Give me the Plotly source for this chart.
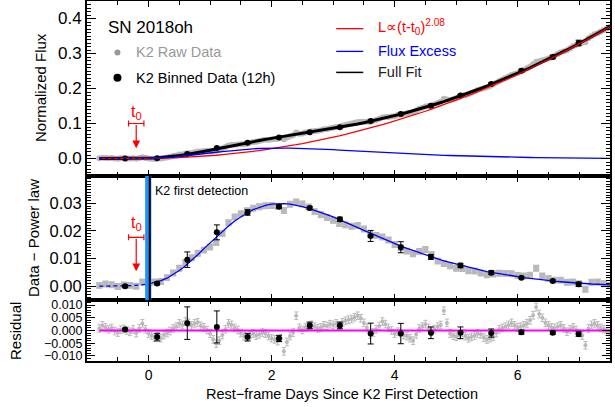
import numpy as np
import plotly.graph_objects as go

# ---------------- data ----------------
# model curves, tabulated every 0.1 day
grid_t = [-0.8, -0.7, -0.6, -0.5, -0.4, -0.3, -0.2, -0.1,
          0.0, 0.1, 0.2, 0.3, 0.4, 0.5, 0.6, 0.7, 0.8, 0.9,
          1.0, 1.1, 1.2, 1.3, 1.4, 1.5, 1.6, 1.7, 1.8, 1.9,
          2.0, 2.1, 2.2, 2.3, 2.4, 2.5, 2.6, 2.7, 2.8, 2.9,
          3.0, 3.1, 3.2, 3.3, 3.4, 3.5, 3.6, 3.7, 3.8, 3.9,
          4.0, 4.1, 4.2, 4.3, 4.4, 4.5, 4.6, 4.7, 4.8, 4.9,
          5.0, 5.1, 5.2, 5.3, 5.4, 5.5, 5.6, 5.7, 5.8, 5.9,
          6.0, 6.1, 6.2, 6.3, 6.4, 6.5, 6.6, 6.7, 6.8, 6.9,
          7.0, 7.1, 7.2, 7.3, 7.4, 7.5]

power_law = [0, 0, 0, 0, 0, 0, 0, 0.00004,
             0.0002, 0.0004, 0.0008, 0.0013, 0.0019, 0.0026, 0.0034, 0.0043, 0.0054, 0.0066,
             0.0079, 0.0093, 0.0109, 0.0125, 0.0144, 0.0163, 0.0183, 0.0205, 0.0228, 0.0253,
             0.0278, 0.0305, 0.0334, 0.0363, 0.0394, 0.0426, 0.0460, 0.0495, 0.0531, 0.0568,
             0.0607, 0.0647, 0.0688, 0.0731, 0.0775, 0.0821, 0.0868, 0.0916, 0.0965, 0.1016,
             0.1068, 0.1122, 0.1177, 0.1233, 0.1291, 0.1350, 0.1410, 0.1472, 0.1535, 0.1600,
             0.1666, 0.1733, 0.1802, 0.1871, 0.1943, 0.2016, 0.2090, 0.2165, 0.2242, 0.2320,
             0.2400, 0.2481, 0.2563, 0.2648, 0.2733, 0.2819, 0.2907, 0.2997, 0.3087, 0.3180,
             0.3273, 0.3368, 0.3464, 0.3562, 0.3661, 0.3762]

flux_excess = [0.0000, 0.0000, 0.0001, 0.0001, 0.0001, 0.0002, 0.0003, 0.0005,
               0.0008, 0.0013, 0.0020, 0.0029, 0.0042, 0.0057, 0.0074, 0.0093, 0.0114, 0.0136,
               0.0157, 0.0178, 0.0199, 0.0218, 0.0236, 0.0252, 0.0265, 0.0277, 0.0286, 0.0293,
               0.0297, 0.0299, 0.0299, 0.0297, 0.0293, 0.0288, 0.0282, 0.0275, 0.0267, 0.0259,
               0.0251, 0.0242, 0.0232, 0.0222, 0.0212, 0.0202, 0.0192, 0.0182, 0.0172, 0.0163,
               0.0154, 0.0145, 0.0137, 0.0129, 0.0121, 0.0113, 0.0106, 0.0099, 0.0092, 0.0086,
               0.0080, 0.0074, 0.0068, 0.0063, 0.0058, 0.0053, 0.0049, 0.0045, 0.0041, 0.0037,
               0.0034, 0.0031, 0.0028, 0.0025, 0.0022, 0.0020, 0.0018, 0.0016, 0.0014, 0.0012,
               0.0011, 0.0009, 0.0008, 0.0007, 0.0006, 0.0005]

# raw "data - power law" offsets from the excess curve, as seen in the middle panel (0.1-day grid)
mid_dev = [0.0003, 0.0008, 0.0004, -0.0002, 0.0003, 0.0001, -0.0003, 0.0010,
           0.0005, 0.0002, -0.0003, 0.0002, 0.0006, 0.0008, 0.0012, 0.0010, 0.0005, -0.0005,
           -0.0015, -0.0020, -0.0008, 0.0012, 0.0015, 0.0010, 0.0008, 0.0005, 0.0002, -0.0002,
           -0.0005, -0.0010, -0.0025, 0.0000, 0.0012, 0.0010, 0.0005, -0.0005, -0.0008, -0.0010,
           -0.0012, -0.0015, -0.0010, -0.0005, 0.0008, 0.0005, -0.0004, 0.0002, 0.0006, 0.0004,
           -0.0003, -0.0006, -0.0010, -0.0012, 0.0005, 0.0020, 0.0008, -0.0008, -0.0010, -0.0012,
           -0.0015, -0.0010, -0.0012, -0.0008, -0.0010, -0.0012, -0.0005, 0.0002, 0.0005, 0.0008,
           0.0005, 0.0006, 0.0012, 0.0040, 0.0015, 0.0008, 0.0004, 0.0006, 0.0000, 0.0003,
           -0.0002, -0.0020, 0.0006, 0.0008, 0.0003, -0.0002]

# raw K2 light curve times (rest-frame days) and residuals from the full fit
raw_t = [-0.80, -0.75, -0.70, -0.65, -0.60, -0.55, -0.50, -0.45, -0.40, -0.35,
         -0.30, -0.25, -0.20, -0.15, -0.10, -0.05, 0.00, 0.05, 0.10, 0.15,
         0.20, 0.25, 0.30, 0.35, 0.40, 0.45, 0.50, 0.55, 0.60, 0.65,
         0.70, 0.75, 0.80, 0.85, 0.90, 0.95, 1.00, 1.05, 1.10, 1.15,
         1.20, 1.25, 1.30, 1.35, 1.40, 1.45, 1.50, 1.55, 1.60, 1.65,
         1.70, 1.75, 1.80, 1.85, 1.90, 1.95, 2.00, 2.05, 2.10, 2.15,
         2.20, 2.25, 2.30, 2.35, 2.40, 2.45, 2.50, 2.55, 2.60, 2.65,
         2.70, 2.75, 2.80, 2.85, 2.90, 2.95, 3.00, 3.05, 3.10, 3.15,
         3.20, 3.25, 3.30, 3.35, 3.40, 3.45, 3.50, 3.55, 3.60, 3.65,
         3.70, 3.75, 3.80, 3.85, 3.90, 3.95, 4.00, 4.05, 4.10, 4.15,
         4.20, 4.25, 4.30, 4.35, 4.40, 4.45, 4.50, 4.55, 4.60, 4.65,
         4.70, 4.75, 4.80, 4.85, 4.90, 4.95, 5.00, 5.05, 5.10, 5.15,
         5.20, 5.25, 5.30, 5.35, 5.40, 5.45, 5.50, 5.55, 5.60, 5.65,
         5.70, 5.75, 5.80, 5.85, 5.90, 5.95, 6.00, 6.05, 6.10, 6.15,
         6.20, 6.25, 6.30, 6.35, 6.40, 6.45, 6.50, 6.55, 6.60, 6.65,
         6.70, 6.75, 6.80, 6.85, 6.90, 6.95, 7.00, 7.05, 7.10, 7.15,
         7.20, 7.25, 7.30, 7.35, 7.40, 7.45, 7.50]

raw_resid = [0.0008, 0.0020, 0.0012, 0.0005, 0.0010, -0.0002, -0.0008, 0.0003, 0.0006, 0.0000,
             -0.0005, 0.0004, -0.0010, 0.0008, 0.0028, 0.0005, -0.0012, -0.0020, -0.0028, -0.0022,
             -0.0030, -0.0018, -0.0010, -0.0002, 0.0008, 0.0015, 0.0028, 0.0022, 0.0035, 0.0030,
             0.0020, 0.0028, 0.0032, 0.0018, 0.0012, 0.0002, -0.0012, -0.0035, -0.0052, -0.0040,
             -0.0018, 0.0005, 0.0028, 0.0022, 0.0010, 0.0002, -0.0010, -0.0022, -0.0028, -0.0018,
             -0.0012, -0.0020, -0.0015, -0.0008, -0.0012, -0.0022, -0.0030, -0.0035, -0.0042, -0.0030,
             -0.0082, -0.0045, -0.0022, -0.0008, 0.0058, 0.0010, 0.0002, 0.0012, 0.0018, 0.0022,
             0.0015, 0.0008, 0.0012, 0.0020, 0.0018, 0.0025, 0.0022, 0.0028, 0.0020, 0.0032,
             0.0038, 0.0042, 0.0045, 0.0052, 0.0058, 0.0048, 0.0030, 0.0010, -0.0015, -0.0008,
             0.0005, 0.0018, 0.0035, 0.0025, 0.0010, 0.0000, -0.0012, -0.0005, -0.0010, -0.0018,
             -0.0022, -0.0030, -0.0040, -0.0015, 0.0008, 0.0015, 0.0025, 0.0010, -0.0005, 0.0005,
             0.0015, 0.0022, 0.0078, 0.0030, -0.0012, -0.0020, -0.0025, -0.0018, -0.0010, -0.0022,
             -0.0030, -0.0025, -0.0020, -0.0012, -0.0015, -0.0028, -0.0035, -0.0030, -0.0025, -0.0010,
             0.0005, 0.0010, 0.0015, 0.0022, 0.0030, 0.0020, 0.0012, 0.0015, 0.0020, 0.0028,
             0.0040, 0.0060, 0.0092, 0.0065, 0.0050, 0.0030, 0.0020, 0.0012, 0.0010, 0.0015,
             0.0020, 0.0008, -0.0005, 0.0005, 0.0012, 0.0002, -0.0010, -0.0020, -0.0058, 0.0008,
             0.0022, 0.0028, 0.0020, 0.0010, 0.0005, -0.0005, -0.0012]
raw_err = 0.0015
mid_err = 0.0009
assert len(raw_t) == len(raw_resid)
assert len(grid_t) == len(power_law) == len(flux_excess) == len(mid_dev)

# 12-hour binned data
bin_t = [-0.38, 0.14, 0.63, 1.11, 1.61, 2.12, 2.62, 3.11, 3.61, 4.10, 4.59, 5.07, 5.57, 6.06, 6.57, 6.99]
bin_flux = [0.000, 0.001, 0.013, 0.030, 0.045, 0.060, 0.075, 0.089, 0.107, 0.127, 0.151, 0.180,
            0.213, 0.251, 0.290, 0.330]
bin_flux_err = [0.001, 0.001, 0.002, 0.002, 0.002, 0.002, 0.002, 0.002, 0.003, 0.003, 0.003, 0.003,
                0.004, 0.004, 0.005, 0.008]
bin_excess = [0.0000, 0.0010, 0.0096, 0.0195, 0.0267, 0.0288, 0.0283, 0.0242, 0.0182, 0.0141,
              0.0106, 0.0075, 0.0049, 0.0031, 0.0019, 0.0007]
bin_excess_err = [0.0004, 0.0005, 0.0028, 0.0027, 0.0010, 0.0006, 0.0006, 0.0008, 0.0020, 0.0020,
                  0.0009, 0.0008, 0.0007, 0.0004, 0.0004, 0.0008]
bin_resid = [0.0004, -0.0026, 0.0029, 0.0014, -0.0026, -0.0031, 0.0020, 0.0020, -0.0012, -0.0012,
             -0.0009, -0.0009, -0.0010, -0.0007, -0.0009, -0.0014]
bin_resid_err = [0.0005, 0.0015, 0.0064, 0.0063, 0.0015, 0.0012, 0.0013, 0.0013, 0.0041, 0.0040,
                 0.0023, 0.0023, 0.0016, 0.0008, 0.0006, 0.0009]

t0 = -0.2
t0_err = 0.125
first_detection = 0.0

# derived: full model = power law + excess; data = model + offsets
full_fit = [p + e for p, e in zip(power_law, flux_excess)]
raw_excess = [e + d for e, d in zip(flux_excess, mid_dev)]
raw_flux = list(np.interp(raw_t, grid_t, full_fit) + np.array(raw_resid))
i0 = grid_t.index(0.0)

# ---------------- styling ----------------
FONT = "Liberation Sans, Arial, Helvetica, sans-serif"
GRAY = "#b9b9b9"
W, H = 615, 407
ML, MR, MT, MB = 87, 5, 1, 46
PW, PH = W - ML - MR, H - MT - MB

fig = go.Figure()

# ---- top panel ----
fig.add_trace(go.Scatter(x=raw_t, y=raw_flux, mode="markers",
                         marker=dict(color=GRAY, size=6), xaxis="x", yaxis="y"))
fig.add_trace(go.Scatter(x=grid_t, y=full_fit, mode="lines", line=dict(color="black", width=3),
                         xaxis="x", yaxis="y"))
fig.add_trace(go.Scatter(x=bin_t, y=bin_flux, mode="markers",
                         marker=dict(color="black", size=6),
                         error_y=dict(type="data", array=bin_flux_err, color="black", thickness=1, width=3),
                         xaxis="x", yaxis="y"))
fig.add_trace(go.Scatter(x=grid_t, y=power_law, mode="lines", line=dict(color="red", width=1.3),
                         xaxis="x", yaxis="y"))
fig.add_trace(go.Scatter(x=grid_t[:i0 + 1], y=flux_excess[:i0 + 1], mode="lines",
                         line=dict(color="blue", width=1.3, dash="3px,3px"), xaxis="x", yaxis="y"))
fig.add_trace(go.Scatter(x=grid_t[i0:], y=flux_excess[i0:], mode="lines",
                         line=dict(color="blue", width=1.3), xaxis="x", yaxis="y"))
# t0 marker (top)
fig.add_trace(go.Scatter(x=[t0], y=[0.1], mode="markers", marker=dict(size=1, color="red"),
                         error_x=dict(type="data", array=[t0_err], color="red", thickness=1.2, width=3),
                         xaxis="x", yaxis="y"))
# legend markers (left)
fig.add_trace(go.Scatter(x=[-0.505], y=[0.303], mode="markers", marker=dict(color="#999999", size=6),
                         xaxis="x", yaxis="y"))
fig.add_trace(go.Scatter(x=[-0.505], y=[0.231], mode="markers", marker=dict(color="black", size=8),
                         xaxis="x", yaxis="y"))

# ---- middle panel ----
fig.add_trace(go.Scatter(x=grid_t, y=raw_excess, mode="markers",
                         marker=dict(color=GRAY, size=6, symbol="square"),
                         error_y=dict(type="constant", value=mid_err, color=GRAY, thickness=2, width=3),
                         xaxis="x2", yaxis="y2"))
fig.add_trace(go.Scatter(x=grid_t[:i0 + 1], y=flux_excess[:i0 + 1], mode="lines",
                         line=dict(color="blue", width=1.3, dash="4px,3px"), xaxis="x2", yaxis="y2"))
fig.add_trace(go.Scatter(x=grid_t[i0:], y=flux_excess[i0:], mode="lines",
                         line=dict(color="blue", width=1.3), xaxis="x2", yaxis="y2"))
fig.add_trace(go.Scatter(x=bin_t, y=bin_excess, mode="markers",
                         marker=dict(color="black", size=6),
                         error_y=dict(type="data", array=bin_excess_err, color="black", thickness=1, width=3),
                         xaxis="x2", yaxis="y2"))
fig.add_trace(go.Scatter(x=[t0], y=[0.0177], mode="markers", marker=dict(size=1, color="red"),
                         error_x=dict(type="data", array=[t0_err], color="red", thickness=1.2, width=3),
                         xaxis="x2", yaxis="y2"))

# ---- bottom panel ----
fig.add_trace(go.Scatter(x=raw_t, y=raw_resid, mode="markers",
                         marker=dict(color=GRAY, size=4),
                         error_y=dict(type="constant", value=raw_err, color=GRAY, thickness=1, width=2),
                         xaxis="x3", yaxis="y3"))
fig.add_trace(go.Scatter(x=[grid_t[0], grid_t[-1]], y=[0, 0], mode="lines",
                         line=dict(color="#ff00ff", width=2), xaxis="x3", yaxis="y3"))
fig.add_trace(go.Scatter(x=bin_t, y=bin_resid, mode="markers",
                         marker=dict(color="black", size=6),
                         error_y=dict(type="data", array=bin_resid_err, color="black", thickness=1, width=3),
                         xaxis="x3", yaxis="y3"))

# ---------------- axes ----------------
h_bot, h_mid = 61 / PH, 124 / PH
dom_bot = [0, h_bot]
dom_mid = [h_bot, h_bot + h_mid]
dom_top = [h_bot + h_mid, 1]

common = dict(showline=True, linecolor="black", linewidth=2, mirror="allticks",
              ticks="inside", tickcolor="black", tickwidth=1.3, showgrid=False, zeroline=False,
              automargin=False, tickfont=dict(family=FONT, color="black"))
xcommon = dict(common, range=[-1, 7.5], tick0=0, dtick=2, ticklen=6,
               minor=dict(ticks="inside", dtick=0.5, tick0=0, ticklen=4, tickcolor="black", tickwidth=1.2))

fig.update_layout(
    xaxis=dict(xcommon, domain=[0, 1], anchor="y", showticklabels=False),
    xaxis2=dict(xcommon, domain=[0, 1], anchor="y2", matches="x", showticklabels=False),
    xaxis3=dict(xcommon, domain=[0, 1], anchor="y3", matches="x", showticklabels=True,
                tickfont=dict(family=FONT, size=14, color="black")),
    yaxis=dict(common, domain=dom_top, anchor="x", range=[-0.05, 0.45], tick0=0, dtick=0.1,
               tickformat=".1f", ticklen=9, tickfont=dict(family=FONT, size=17, color="black"),
               minor=dict(ticks="inside", dtick=0.01, tick0=0, ticklen=4, tickcolor="black", tickwidth=1)),
    yaxis2=dict(common, domain=dom_mid, anchor="x2", range=[-0.005, 0.0399], tick0=0, dtick=0.01,
                tickformat=".2f", ticklen=9, tickfont=dict(family=FONT, size=16.5, color="black"),
                minor=dict(ticks="inside", dtick=0.001, tick0=0, ticklen=4, tickcolor="black", tickwidth=1)),
    yaxis3=dict(common, domain=dom_bot, anchor="x3", range=[-0.012, 0.012], tick0=0, dtick=0.005,
                tickformat=".3f", ticklen=8, tickfont=dict(family=FONT, size=12.5, color="black"),
                minor=dict(ticks="inside", dtick=0.001, tick0=0, ticklen=4, tickcolor="black", tickwidth=1)),
    width=W, height=H, margin=dict(l=ML, r=MR, t=MT, b=MB),
    plot_bgcolor="white", paper_bgcolor="white", showlegend=False,
    font=dict(family=FONT, color="black"),
)

# ---------------- shapes ----------------
shapes = [
    dict(type="rect", xref="x2", yref="y2", x0=-0.055, x1=0.045, y0=-0.005, y1=0.0399,
         fillcolor="#1e90ff", line=dict(width=0), layer="above"),
    dict(type="line", xref="x2", yref="y2", x0=first_detection + 0.02, x1=first_detection + 0.02,
         y0=-0.005, y1=0.0399, line=dict(color="black", width=2), layer="above"),
    dict(type="line", xref="x", yref="y", x0=3.05, x1=3.49, y0=0.371, y1=0.371,
         line=dict(color="red", width=1.3)),
    dict(type="line", xref="x", yref="y", x0=3.05, x1=3.49, y0=0.306, y1=0.306,
         line=dict(color="blue", width=1.3)),
    dict(type="line", xref="x", yref="y", x0=3.05, x1=3.49, y0=0.246, y1=0.246,
         line=dict(color="black", width=1.5)),
]
fig.update_layout(shapes=shapes)

# ---------------- annotations ----------------
def txt(x, y, s, size, color="black", xref="x", yref="y", xanchor="left", angle=0):
    return dict(x=x, y=y, xref=xref, yref=yref, text=s, showarrow=False, xanchor=xanchor,
                yanchor="middle", textangle=angle, font=dict(family=FONT, size=size, color=color))

ann = [
    txt(-0.684, 0.374, "SN 2018oh", 17),
    txt(-0.244, 0.303, "K2 Raw Data", 14.5, "#999999"),
    txt(-0.244, 0.231, "K2 Binned Data (12h)", 14.5),
    txt(3.70, 0.375, "L\u221d(t-t<sub>0</sub>)<sup>2.08</sup>", 14.5, "red"),
    txt(3.70, 0.306, "Flux Excess", 14.5, "blue"),
    txt(3.70, 0.246, "Full Fit", 14.5, "#222222"),
    txt(t0, 0.132, "t<sub>0</sub>", 16, "red", xanchor="center"),
    txt(t0, 0.0226, "t<sub>0</sub>", 16, "red", xref="x2", yref="y2", xanchor="center"),
    txt(0.08, 0.0345, "K2 first detection", 12.5, xref="x2", yref="y2"),
    txt((40 - ML) / PW, (PH + MT - 88) / PH, "Normalized Flux", 15, xref="paper", yref="paper",
        xanchor="center", angle=-90),
    txt((33 - ML) / PW, (PH + MT - 238) / PH, "Data \u2212 Power law", 15, xref="paper", yref="paper",
        xanchor="center", angle=-90),
    txt((15 - ML) / PW, (PH + MT - 331) / PH, "Residual", 15, xref="paper", yref="paper",
        xanchor="center", angle=-90),
    txt((342 - ML) / PW, (PH + MT - 394) / PH, "Rest\u2212frame Days Since K2 First Detection", 14.5,
        xref="paper", yref="paper", xanchor="center"),
    dict(x=t0, y=0.029, ax=t0, ay=0.1, xref="x", yref="y", axref="x", ayref="y", text="",
         showarrow=True, arrowhead=2, arrowsize=1.3, arrowwidth=1.2, arrowcolor="red"),
    dict(x=t0, y=0.0054, ax=t0, ay=0.0177, xref="x2", yref="y2", axref="x2", ayref="y2", text="",
         showarrow=True, arrowhead=2, arrowsize=1.3, arrowwidth=1.2, arrowcolor="red"),
]
fig.update_layout(annotations=ann)

fig.write_html("out.html", config={"displayModeBar": False},
               post_script="document.body.style.margin='0';")
